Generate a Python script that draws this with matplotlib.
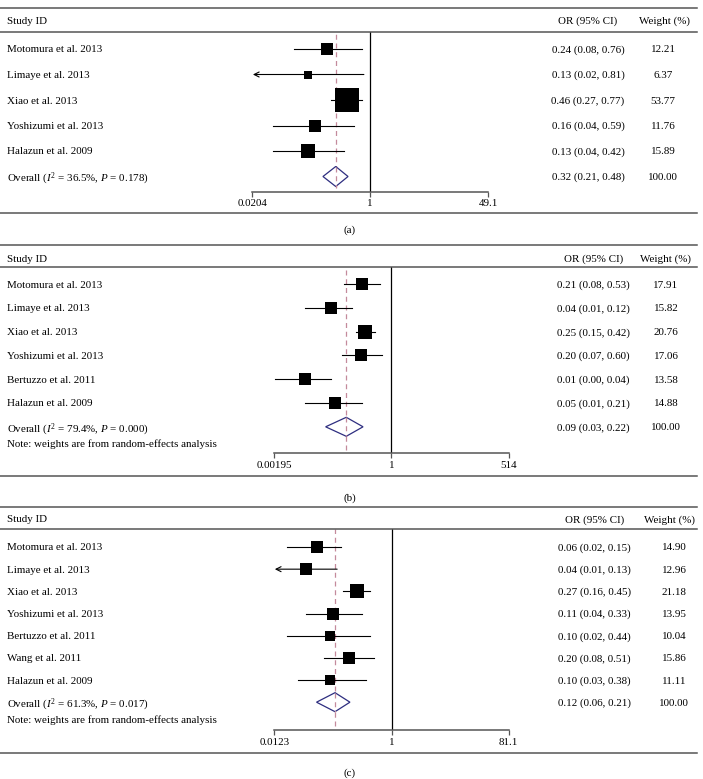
import matplotlib
matplotlib.use("Agg")
import matplotlib.pyplot as plt
import matplotlib.transforms as mtransforms
from matplotlib.lines import Line2D
import numpy as np

plt.rcParams['font.family'] = ['Liberation Serif', 'DejaVu Serif']
plt.rcParams['mathtext.fontset'] = 'custom'
plt.rcParams['mathtext.rm'] = 'Liberation Serif'
plt.rcParams['mathtext.it'] = 'Liberation Serif:italic'

# ---- data ----
studies_a = ["Motomura et al. 2013", "Limaye et al. 2013", "Xiao et al. 2013",
             "Yoshizumi et al. 2013", "Halazun et al. 2009"]
or_a = [0.24, 0.13, 0.46, 0.16, 0.13]
lo_a = [0.08, 0.02, 0.27, 0.04, 0.04]
hi_a = [0.76, 0.81, 0.77, 0.59, 0.42]
w_a = [12.21, 6.37, 53.77, 11.76, 15.89]
overall_a = (0.32, 0.21, 0.48)
het_a = ("36.5%", "0.178")
ticks_a = [0.0204, 1, 49.1]
ticklabels_a = ["0.0204", "1", "49.1"]

studies_b = ["Motomura et al. 2013", "Limaye et al. 2013", "Xiao et al. 2013",
             "Yoshizumi et al. 2013", "Bertuzzo et al. 2011", "Halazun et al. 2009"]
or_b = [0.21, 0.04, 0.25, 0.20, 0.01, 0.05]
lo_b = [0.08, 0.01, 0.15, 0.07, 0.002, 0.01]
hi_b = [0.53, 0.12, 0.42, 0.60, 0.04, 0.21]
w_b = [17.91, 15.82, 20.76, 17.06, 13.58, 14.88]
overall_b = (0.09, 0.03, 0.22)
het_b = ("79.4%", "0.000")
ticks_b = [0.00195, 1, 514]
ticklabels_b = ["0.00195", "1", "514"]

studies_c = ["Motomura et al. 2013", "Limaye et al. 2013", "Xiao et al. 2013",
             "Yoshizumi et al. 2013", "Bertuzzo et al. 2011", "Wang et al. 2011",
             "Halazun et al. 2009"]
or_c = [0.06, 0.04, 0.27, 0.11, 0.10, 0.20, 0.10]
lo_c = [0.02, 0.01, 0.16, 0.04, 0.02, 0.08, 0.03]
hi_c = [0.15, 0.13, 0.45, 0.33, 0.44, 0.51, 0.38]
w_c = [14.90, 12.96, 21.18, 13.95, 10.04, 15.86, 11.11]
overall_c = (0.12, 0.06, 0.21)
het_c = ("61.3%", "0.017")
ticks_c = [0.0123, 1, 81.1]
ticklabels_c = ["0.0123", "1", "81.1"]

note = "Note: weights are from random-effects analysis"

W, H = 703, 779
fig = plt.figure(figsize=(W / 100, H / 100), dpi=100)

FS = 7.9
VA = 'center_baseline'
LINE_C = '#555555'
DASH_C = '#c48a9c'
DIAM_C = '#2e2e80'


def hline(y):
    fig.add_artist(Line2D([0, 697 / W], [1 - y / H, 1 - y / H],
                          transform=fig.transFigure, color=LINE_C, lw=1.1))


def forest(studies, ors, los, his, ws, overall, het, ticks, ticklabels, lay):
    n = len(studies)
    s = lay['step']
    overall_y = lay['first'] + n * s
    h0 = (lay['first'] - lay['hdr_line']) / s
    h1 = (lay['axis'] - overall_y) / s
    xl, xr = lay['xl'], lay['xr']
    ax = fig.add_axes([xl / W, 1 - lay['axis'] / H, (xr - xl) / W,
                       (lay['axis'] - lay['hdr_line']) / H])
    ax.set_xscale('log')
    ax.set_xlim(ticks[0], ticks[-1])
    ax.set_ylim(n + h1, -h0)
    ax.patch.set_visible(False)
    for sp in ['top', 'left', 'right']:
        ax.spines[sp].set_visible(False)
    ax.spines['bottom'].set_color(LINE_C)
    ax.spines['bottom'].set_linewidth(1.1)
    ax.set_yticks([])
    ax.set_xticks(ticks)
    ax.set_xticklabels(ticklabels)
    ax.xaxis.set_minor_locator(matplotlib.ticker.NullLocator())
    ax.tick_params(axis='x', direction='out', length=3.5, width=0.9,
                   color=LINE_C, labelsize=FS, pad=2)

    ax.axvline(1, color='black', lw=0.9, zorder=1)
    ax.axvline(overall[0], ymin=0.02, color=DASH_C, lw=0.9, ls=(0, (4, 3)), zorder=2)

    rows = np.arange(n)
    for i in rows:
        left = max(los[i], ticks[0])
        if los[i] < ticks[0]:
            ax.annotate('', xy=(ticks[0] * 1.02, i), xytext=(his[i], i),
                        arrowprops=dict(arrowstyle='->', color='black', lw=0.8,
                                        shrinkA=0, shrinkB=0, mutation_scale=9))
        else:
            ax.plot([left, his[i]], [i, i], color='black', lw=0.8, zorder=3)
        side_px = lay['box'] * np.sqrt(ws[i])
        ax.plot(ors[i], i, marker='s', ms=side_px * 0.72, color='black',
                mew=0, zorder=4)

    d = lay['diam'] / s
    ax.fill([overall[1], overall[0], overall[2], overall[0], overall[1]],
            [n, n - d, n, n + d, n], facecolor='white', edgecolor=DIAM_C,
            lw=0.9, zorder=3)
    # dashed line shows through the diamond
    ax.plot([overall[0], overall[0]], [n - d, n + d], color=DASH_C, lw=0.9,
            ls=(0, (4, 3)), zorder=4)

    # table text
    tr = mtransforms.blended_transform_factory(fig.transFigure, ax.transData)
    lx = 7.5 / W
    for i in rows:
        ax.text(lx, i, studies[i], transform=tr, ha='left', va=VA, fontsize=FS)
        ax.text(lay['orx'] / W, i, f"{ors[i]:.2f} ({los[i]:.2f}, {his[i]:.2f})",
                transform=tr, ha='center', va=VA, fontsize=FS)
        ax.text(lay['wx'] / W, i, f"{ws[i]:.2f}", transform=tr, ha='center',
                va=VA, fontsize=FS)
    ax.text(lx, n, rf"Overall ($\mathit{{I}}^2$ = {het[0]}, $\mathit{{P}}$ = {het[1]})",
            transform=tr, ha='left', va=VA, fontsize=FS)
    ax.text(lay['orx'] / W, n,
            f"{overall[0]:.2f} ({overall[1]:.2f}, {overall[2]:.2f})",
            transform=tr, ha='center', va=VA, fontsize=FS)
    ax.text(lay['wx'] / W, n, "100.00", transform=tr, ha='center', va=VA,
            fontsize=FS)
    if lay.get('note'):
        ax.text(lx, n + lay['note'], note, transform=tr, ha='left', va=VA,
                fontsize=FS)

    # header and frame lines
    hline(lay['top'])
    hline(lay['hdr_line'])
    hline(lay['bottom'])
    hy = 1 - lay['hdr'] / H
    fig.text(lx, hy, "Study ID", ha='left', va=VA, fontsize=FS)
    fig.text(lay['orx'] / W, hy, "OR (95% CI)", ha='center', va=VA, fontsize=FS)
    fig.text(lay['whx'] / W, hy, "Weight (%)", ha='center', va=VA, fontsize=FS)
    fig.text(350 / W, 1 - lay['lab'] / H, lay['label'], ha='center', va=VA,
             fontsize=FS)
    return ax


lay_a = dict(top=7.5, hdr=20, hdr_line=32, first=49, step=25.5, axis=191.5,
             bottom=213, lab=229, xl=252.3, xr=488.3, orx=588, wx=663, whx=664.5,
             box=3.27, diam=10, label="(a)")
lay_b = dict(top=245, hdr=258, hdr_line=267, first=284, step=23.8, axis=453.3,
             bottom=476, lab=497, xl=274.3, xr=508.7, orx=593.5, wx=666, whx=665.5,
             box=3.07, diam=9.5, note=0.68, label="(b)")
lay_c = dict(top=507, hdr=519, hdr_line=529, first=547, step=22.17, axis=730,
             bottom=753, lab=772.5, xl=274.3, xr=508.7, orx=594.5, wx=674, whx=670,
             box=3.12, diam=9.5, note=0.77, label="(c)")

forest(studies_a, or_a, lo_a, hi_a, w_a, overall_a, het_a, ticks_a, ticklabels_a, lay_a)
forest(studies_b, or_b, lo_b, hi_b, w_b, overall_b, het_b, ticks_b, ticklabels_b, lay_b)
forest(studies_c, or_c, lo_c, hi_c, w_c, overall_c, het_c, ticks_c, ticklabels_c, lay_c)

fig.savefig("out.png", dpi=100)
